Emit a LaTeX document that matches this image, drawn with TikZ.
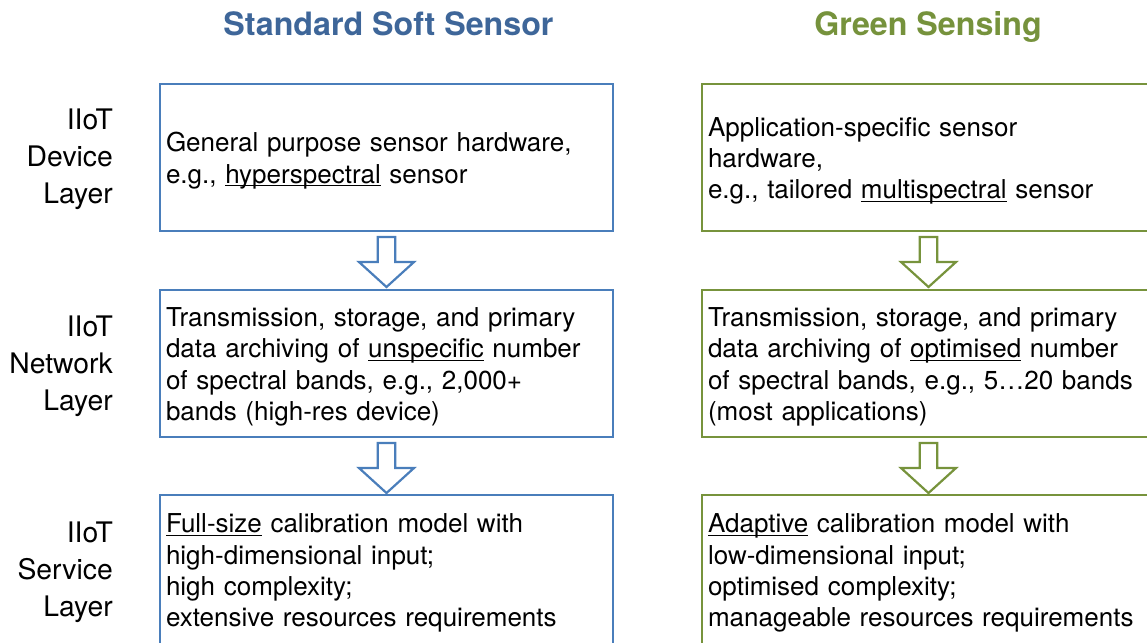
\documentclass[tikz,border=0pt]{standalone}
\usepackage{fontspec}
\setmainfont{TeX Gyre Heros}
\usetikzlibrary{calc}
\definecolor{bluebd}{HTML}{4A7EBB}
\definecolor{bluett}{HTML}{3E6699}
\definecolor{greenbd}{HTML}{77933C}
\definecolor{greentt}{HTML}{76923C}
\newcommand{\myul}[1]{\setbox0\hbox{#1}\rlap{\rule[-3.2pt]{\wd0}{1.3pt}}\box0\relax}
\newcommand{\topgap}{\rule{0pt}{25.5pt}}
\newcommand{\hollowarrow}[2]{%
  \draw[line width=2.2pt, draw=#2, fill=white, line join=miter]
    ($(#1)+(-8.7,0)$) -- ($(#1)+(-8.7,25)$) -- ($(#1)+(-27.5,25)$) --
    ($(#1)+(0,50)$) -- ($(#1)+(27.5,25)$) -- ($(#1)+(8.7,25)$) --
    ($(#1)+(8.7,0)$) -- cycle;}
\begin{document}
\begin{tikzpicture}[x=1pt,y=-1pt]
\useasboundingbox (0,0) rectangle (1147,642);
\tikzset{
  box/.style={draw, line width=2pt, fill=white, minimum width=453pt,
    minimum height=147pt, text width=441pt, inner xsep=6pt, inner ysep=0pt,
    align=left, anchor=north west, font=\fontsize{26}{31.3}\selectfont},
  bluebox/.style={box, draw=bluebd},
  greenbox/.style={box, draw=greenbd},
  layerlabel/.style={anchor=east, align=right, inner sep=0pt,
    font=\fontsize{28.3}{37}\selectfont},
  coltitle/.style={anchor=base, inner sep=0pt, font=\fontsize{32.2}{38}\selectfont\bfseries}
}
% titles
\node[coltitle, text=bluett] (t1) at (388.5,36) {Standard Soft Sensor};
\node[coltitle, text=greentt] (t2) at (928,36) {Green Sensing};
% layer labels
\node[layerlabel] (l1) at (113,159) {IIoT\\Device\\Layer};
\node[layerlabel] (l2) at (113,366) {IIoT\\Network\\Layer};
\node[layerlabel] (l3) at (113,572) {IIoT\\Service\\Layer};
% left column
\node[bluebox] (L1) at (159,83) {\topgap General purpose sensor hardware,\\e.g., \myul{hyperspectral} sensor};
\node[bluebox] (L2) at (159,289) {\topgap Transmission, storage, and primary\\data archiving of \myul{unspecific} number\\of spectral bands, e.g., 2,000+\\bands (high-res device)};
\node[bluebox, minimum height=150pt] (L3) at (159,494) {\topgap\myul{Full-size} calibration model with\\high-dimensional input;\\high complexity;\\extensive resources requirements};
% right column
\node[greenbox] (R1) at (701,83) {\topgap Application-specific sensor\\hardware,\\e.g., tailored \myul{multispectral} sensor};
\node[greenbox] (R2) at (701,289) {\topgap Transmission, storage, and primary\\data archiving of \myul{optimised} number\\of spectral bands, e.g., 5…20 bands\\(most applications)};
\node[greenbox, minimum height=150pt] (R3) at (701,494) {\topgap\myul{Adaptive} calibration model with\\low-dimensional input;\\optimised complexity;\\manageable resources requirements};
% arrows
\coordinate (a1) at ($(L1.south)+(0,5)$);
\coordinate (a2) at ($(L2.south)+(0,5)$);
\coordinate (a3) at ($(R1.south)+(0,5)$);
\coordinate (a4) at ($(R2.south)+(0,5)$);
\hollowarrow{a1}{bluebd}
\hollowarrow{a2}{bluebd}
\hollowarrow{a3}{greenbd}
\hollowarrow{a4}{greenbd}
\end{tikzpicture}
\end{document}
